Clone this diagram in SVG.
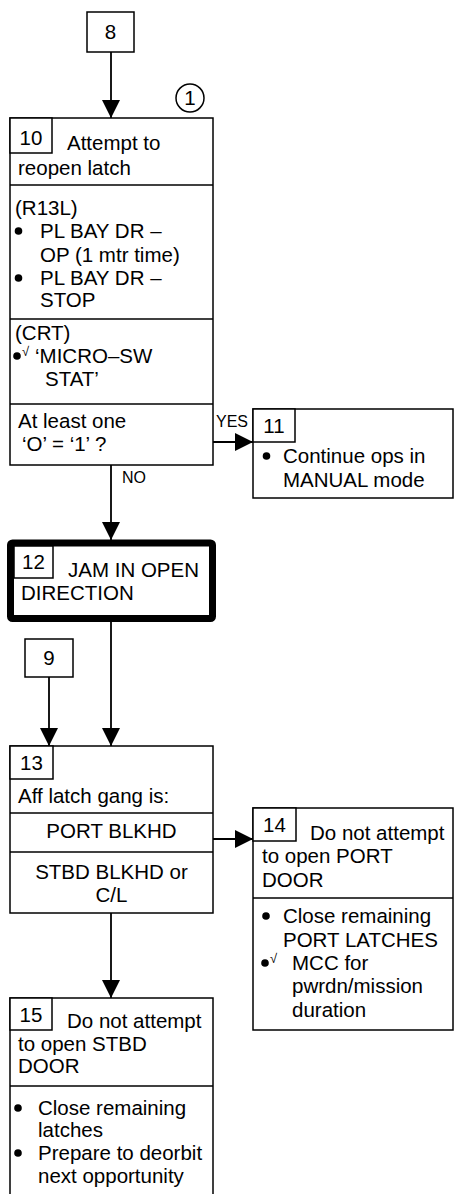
<svg xmlns="http://www.w3.org/2000/svg" width="455" height="1194" viewBox="0 0 455 1194">
<defs>
<style>
text{font-family:"Liberation Sans",Arial,sans-serif;font-size:20.5px;fill:#000}
.b{fill:#fff;stroke:#000;stroke-width:1.5}
.l{fill:none;stroke:#000;stroke-width:1.5}
.c{text-anchor:middle}
.s{font-size:16px}
.k{font-size:13px}
.w{fill:none;stroke:#000;stroke-width:1.8}
.d{fill:#000}
</style>
<marker id="ah" markerUnits="userSpaceOnUse" markerWidth="18" markerHeight="18" refX="18" refY="9" orient="auto">
<path d="M0,0 L18,9 L0,18 z" fill="#000"/>
</marker>
</defs>
<rect width="455" height="1194" fill="#fff"/>

<g id="connectors">
<line class="w" x1="111" y1="52" x2="111" y2="118" marker-end="url(#ah)"/>
<line class="w" x1="213" y1="442" x2="253" y2="442" marker-end="url(#ah)"/>
<line class="w" x1="111" y1="465" x2="111" y2="540" marker-end="url(#ah)"/>
<line class="w" x1="111" y1="622" x2="111" y2="746" marker-end="url(#ah)"/>
<line class="w" x1="49" y1="677" x2="49" y2="746" marker-end="url(#ah)"/>
<line class="w" x1="213" y1="839" x2="253" y2="839" marker-end="url(#ah)"/>
<line class="w" x1="111" y1="913" x2="111" y2="998" marker-end="url(#ah)"/>
<text class="s" x="216" y="427">YES</text>
<text class="s" x="122" y="483">NO</text>
</g>

<g id="n8">
<rect class="b" x="87" y="12" width="47" height="40"/>
<text class="c" x="110.5" y="39">8</text>
</g>

<g id="note1">
<circle class="l" cx="190" cy="98" r="14"/>
<text class="c" x="190" y="105">1</text>
</g>

<g id="n10">
<rect class="b" x="10" y="118" width="203" height="347"/>
<rect class="b" x="10" y="118" width="42" height="35"/>
<text class="c" x="31" y="145">10</text>
<text x="67" y="150">Attempt to</text>
<text x="18" y="175">reopen latch</text>
<line class="l" x1="10" y1="185" x2="213" y2="185"/>
<text x="15" y="215">(R13L)</text>
<circle class="d" cx="18.5" cy="231" r="3.8"/>
<text x="40" y="238">PL BAY DR  –</text>
<text x="40" y="262">OP (1 mtr time)</text>
<circle class="d" cx="18.5" cy="278" r="3.8"/>
<text x="40" y="285">PL BAY DR  –</text>
<text x="40" y="307">STOP</text>
<line class="l" x1="10" y1="319" x2="213" y2="319"/>
<text x="15" y="340">(CRT)</text>
<circle class="d" cx="17" cy="356" r="3.8"/>
<text class="k" x="22" y="356">√</text>
<text x="35" y="363">‘MICRO–SW</text>
<text x="45" y="386">STAT’</text>
<line class="l" x1="10" y1="404" x2="213" y2="404"/>
<text x="18" y="428">At least one</text>
<text x="22" y="451">‘O’ = ‘1’ ?</text>
</g>

<g id="n11">
<rect class="b" x="253" y="409" width="200" height="89"/>
<rect class="b" x="253" y="409" width="42" height="33"/>
<text class="c" x="274" y="433">11</text>
<circle class="d" cx="266.5" cy="456" r="3.8"/>
<text x="283" y="463">Continue ops in</text>
<text x="283" y="487">MANUAL mode</text>
</g>

<g id="n12">
<rect x="10.5" y="543" width="202" height="75.5" rx="2" fill="#fff" stroke="#000" stroke-width="7"/>
<rect class="b" x="14" y="546" width="39" height="32"/>
<text class="c" x="33.5" y="569">12</text>
<text x="68" y="577">JAM IN OPEN</text>
<text x="21" y="600">DIRECTION</text>
</g>

<g id="n9">
<rect class="b" x="25" y="639" width="48" height="38"/>
<text class="c" x="49" y="665">9</text>
</g>

<g id="n13">
<rect class="b" x="10" y="746" width="203" height="167"/>
<rect class="b" x="10" y="746" width="43" height="33"/>
<text class="c" x="31.5" y="770">13</text>
<text x="18" y="803">Aff latch gang is:</text>
<line class="l" x1="10" y1="813" x2="213" y2="813"/>
<text class="c" x="111.5" y="838">PORT BLKHD</text>
<line class="l" x1="10" y1="852" x2="213" y2="852"/>
<text class="c" x="111.5" y="879">STBD BLKHD or</text>
<text class="c" x="111.5" y="902">C/L</text>
</g>

<g id="n14">
<rect class="b" x="253" y="808" width="200" height="222"/>
<rect class="b" x="253" y="808" width="43" height="33"/>
<text class="c" x="274.5" y="832">14</text>
<text x="310" y="840">Do not attempt</text>
<text x="262" y="863">to open PORT</text>
<text x="262" y="887">DOOR</text>
<line class="l" x1="253" y1="898" x2="453" y2="898"/>
<circle class="d" cx="266" cy="916" r="3.8"/>
<text x="283" y="923">Close remaining</text>
<text x="283" y="947">PORT LATCHES</text>
<circle class="d" cx="265" cy="963" r="3.8"/>
<text class="k" x="270" y="963">√</text>
<text x="292" y="970">MCC for</text>
<text x="292" y="993">pwrdn/mission</text>
<text x="292" y="1017">duration</text>
</g>

<g id="n15">
<rect class="b" x="10" y="998" width="203" height="210"/>
<rect class="b" x="10" y="998" width="42" height="32"/>
<text class="c" x="31" y="1022">15</text>
<text x="67" y="1028">Do not attempt</text>
<text x="18" y="1051">to open STBD</text>
<text x="18" y="1073">DOOR</text>
<line class="l" x1="10" y1="1086" x2="213" y2="1086"/>
<circle class="d" cx="18" cy="1108" r="3.8"/>
<text x="38" y="1115">Close remaining</text>
<text x="38" y="1137">latches</text>
<circle class="d" cx="18" cy="1153" r="3.8"/>
<text x="38" y="1160">Prepare to deorbit</text>
<text x="38" y="1183">next opportunity</text>
</g>
</svg>
